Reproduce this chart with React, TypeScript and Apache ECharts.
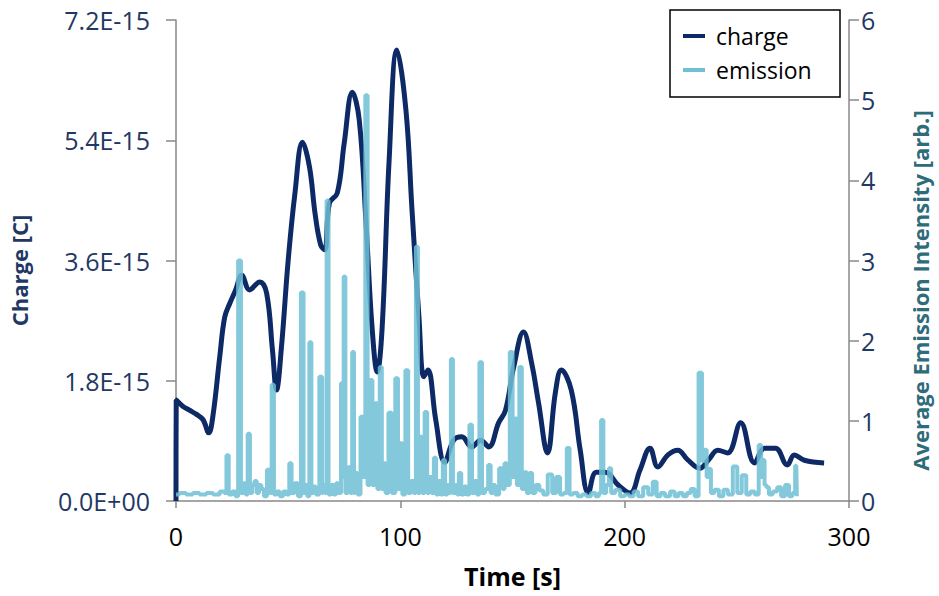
import React, { useEffect, useRef } from "react";
import * as echarts from "echarts";

// Charge [×1E-15 C] vs time [s]
const chargeTime = [0, 0.1, 3, 6, 9, 12, 14.6, 16.4, 19.5, 21.7, 24, 26.5, 29.3, 32.8, 37.3, 40.4, 43, 44.8, 47, 50, 53, 56.4, 59.5, 62, 64.5, 66.3, 68.4, 71.9, 75, 78.6, 81.7, 84.8, 87.4, 89.7, 91.9, 95, 98.5, 102.5, 105.2, 108.3, 110.5, 112.3, 115.8, 119.8, 123.8, 127.4, 131.8, 135.8, 139.4, 143.8, 146.9, 150.5, 154.9, 158.5, 161.6, 165.6, 169.1, 171.8, 176.2, 180.2, 183.8, 187.3, 191.3, 197.1, 202.4, 206.8, 211.3, 214.8, 219.3, 223.7, 228, 233.5, 237.5, 241.5, 245.9, 251.7, 257.9, 262.4, 267.2, 272.5, 275.6, 280.1, 288.9];
const chargeValue = [0, 1.51, 1.42, 1.36, 1.3, 1.22, 1.02, 1.26, 2.16, 2.75, 2.96, 3.15, 3.38, 3.16, 3.28, 3.11, 2.26, 1.66, 2.3, 3.6, 4.6, 5.37, 5.0, 4.3, 3.83, 3.76, 4.46, 4.61, 5.36, 6.12, 5.7, 4.1, 2.6, 1.93, 2.6, 5.1, 6.75, 5.85, 4.36, 2.75, 1.86, 1.96, 1.21, 0.58, 0.91, 0.96, 0.81, 0.91, 0.81, 1.17, 1.36, 2.0, 2.53, 2.07, 1.47, 0.72, 1.62, 1.96, 1.66, 0.76, 0.12, 0.43, 0.43, 0.24, 0.12, 0.46, 0.79, 0.51, 0.69, 0.76, 0.62, 0.49, 0.62, 0.76, 0.72, 1.17, 0.57, 0.79, 0.79, 0.54, 0.69, 0.61, 0.57];

// Average emission intensity [arb.] vs time [s]
const emissionTime = [0, 3, 6, 9, 12, 15, 18, 21, 22, 23, 24, 26, 27, 28.4, 29.5, 30.6, 31.5, 32.4, 33.5, 34.5, 35.5, 36.5, 37.5, 38.6, 39.8, 41.3, 42.2, 43.1, 44.2, 45.5, 47, 48.5, 50, 51, 52, 53.7, 55, 56.4, 57.3, 58.1, 59, 59.9, 60.8, 61.7, 63, 64.8, 65.5, 66.1, 66.8, 67.5, 68.5, 69.7, 70.8, 71.9, 73, 74.1, 74.5, 75, 76, 77.2, 78.1, 79, 79.7, 80.3, 81.5, 83, 84, 84.8, 86, 87, 88.1, 89.2, 90.3, 91.4, 92.1, 92.8, 94, 95.4, 97, 98.5, 99.4, 100.3, 101.5, 103, 104, 105.5, 106.5, 107.4, 108.3, 109.2, 110.3, 111.4, 112.5, 113.5, 114.5, 115.4, 116.5, 117.5, 118.5, 119.4, 120.5, 121.5, 122.2, 122.9, 124, 125, 125.7, 126.5, 127.8, 129, 130.2, 131.4, 132.5, 133.5, 134.7, 135.8, 137, 138.5, 139.8, 140.7, 141.6, 143, 145.1, 146, 146.9, 148, 149.6, 150.5, 151.4, 152.5, 153.6, 154.7, 155.8, 157, 158, 159.5, 161, 162.9, 164.5, 166.9, 168.5, 170.4, 172, 173.5, 174.9, 176, 178, 180, 182, 184, 186, 188, 189, 190, 191, 192.5, 193.5, 194.5, 197, 199, 201, 203, 205, 207, 209.5, 211.5, 213.5, 215, 217, 219, 221.5, 223, 225, 227, 228.5, 230.4, 232, 233.9, 235, 236.1, 237, 237.9, 239, 241, 243, 245, 247, 249.4, 251, 253.4, 255, 257, 259, 260.5, 261.2, 261.9, 262.8, 263.6, 265, 267, 269, 270.5, 272.5, 274, 275.5, 276.5, 277];
const emissionValue = [0.08, 0.1, 0.08, 0.1, 0.08, 0.1, 0.08, 0.12, 0.1, 0.57, 0.08, 0.12, 0.06, 3.0, 0.1, 0.22, 0.08, 0.84, 0.1, 0.2, 0.25, 0.1, 0.2, 0.15, 0.06, 0.39, 0.1, 1.45, 0.08, 0.12, 0.06, 0.12, 0.08, 0.47, 0.1, 0.22, 0.06, 2.6, 0.1, 0.2, 0.06, 1.98, 0.1, 0.18, 0.08, 1.55, 0.1, 0.2, 0.1, 3.75, 0.08, 0.2, 0.08, 0.22, 0.1, 1.47, 0.3, 2.8, 0.1, 0.42, 0.1, 1.86, 0.1, 0.35, 0.08, 1.05, 0.3, 5.06, 0.2, 1.51, 0.2, 1.22, 0.15, 1.67, 0.15, 0.47, 0.1, 1.1, 0.1, 1.53, 0.15, 0.72, 0.08, 1.63, 0.1, 0.25, 0.1, 3.17, 0.1, 0.8, 0.1, 1.11, 0.1, 0.3, 0.1, 0.54, 0.08, 0.25, 0.08, 0.51, 0.08, 0.2, 0.1, 1.77, 0.1, 0.2, 0.08, 0.35, 0.08, 0.18, 0.08, 0.95, 0.1, 0.25, 0.08, 1.73, 0.1, 0.15, 0.45, 0.1, 0.2, 0.08, 0.41, 0.15, 0.47, 0.2, 1.86, 0.3, 1.03, 0.2, 1.67, 0.15, 0.36, 0.1, 0.35, 0.1, 0.2, 0.13, 0.08, 0.33, 0.1, 0.3, 0.08, 0.1, 0.66, 0.08, 0.1, 0.06, 0.08, 0.06, 0.1, 0.06, 0.1, 1.01, 0.1, 0.2, 0.41, 0.1, 0.14, 0.06, 0.08, 0.06, 0.12, 0.06, 0.17, 0.08, 0.24, 0.06, 0.1, 0.06, 0.12, 0.06, 0.1, 0.06, 0.1, 0.15, 0.06, 1.6, 0.5, 0.64, 0.3, 0.4, 0.1, 0.14, 0.06, 0.14, 0.08, 0.43, 0.1, 0.32, 0.08, 0.12, 0.08, 0.7, 0.3, 0.51, 0.2, 0.17, 0.08, 0.12, 0.17, 0.06, 0.2, 0.06, 0.1, 0.44, 0.06];

const FONT = "'Open Sans', sans-serif";
const NAVY = "#1F3864";
const TEAL_DARK = "#2E6B7B";

export default function App() {
  const ref = useRef<HTMLDivElement>(null);
  useEffect(() => {
    document.body.style.margin = "0";
    const chart = echarts.init(ref.current!, null, { renderer: "svg" });
    chart.setOption({
      animation: false,
      backgroundColor: "#fff",
      grid: { left: 176, right: 87, top: 20, bottom: 95 },
      legend: {
        orient: "vertical",
        left: 678,
        top: 18,
        icon: "rect",
        itemWidth: 22,
        itemHeight: 4,
        itemGap: 8,
        textStyle: { fontFamily: FONT, fontSize: 23, color: "#000", lineHeight: 26, padding: [0, 0, 0, 6] },
        data: ["charge", "emission"],
      },
      graphic: [
        {
          type: "rect",
          shape: { x: 670, y: 10, width: 170, height: 87 },
          style: { fill: "none", stroke: "#000", lineWidth: 1.5 },
          z: 100,
        },
      ],
      xAxis: {
        type: "value",
        min: 0,
        max: 300,
        interval: 100,
        name: "Time [s]",
        nameLocation: "middle",
        nameGap: 62,
        nameTextStyle: { fontFamily: FONT, fontSize: 25, fontWeight: "bold", color: "#000" },
        axisLine: { lineStyle: { color: "#888", width: 1.5 } },
        axisTick: { show: true, length: 7, lineStyle: { color: "#888", width: 1.5 } },
        axisLabel: { fontFamily: FONT, fontSize: 25, color: "#000", margin: 22 },
        splitLine: { show: false },
      },
      yAxis: [
        {
          type: "value",
          min: 0,
          max: 7.2,
          interval: 1.8,
          name: "Charge [C]",
          nameLocation: "middle",
          nameGap: 146,
          nameRotate: 90,
          nameTextStyle: { fontFamily: FONT, fontSize: 22, fontWeight: "bold", color: NAVY, padding: [0, 20, 0, 0] },
          axisLine: { show: true, lineStyle: { color: "#888", width: 1.5 } },
          axisTick: { show: true, length: 10, lineStyle: { color: "#888", width: 1.5 } },
          axisLabel: {
            fontFamily: FONT,
            fontSize: 25,
            color: NAVY,
            margin: 26,
            formatter: (v: number) => (v === 0 ? "0.0E+00" : v.toFixed(1) + "E-15"),
          },
          splitLine: { show: false },
        },
        {
          type: "value",
          min: 0,
          max: 6,
          interval: 1,
          position: "right",
          name: "Average Emission Intensity [arb.]",
          nameLocation: "middle",
          nameGap: 60,
          nameRotate: 90,
          nameTextStyle: { fontFamily: FONT, fontSize: 22, fontWeight: "bold", color: TEAL_DARK, padding: [0, 60, 0, 0] },
          axisLine: { show: true, lineStyle: { color: "#888", width: 1.5 } },
          axisTick: { show: true, length: 10, lineStyle: { color: "#888", width: 1.5 } },
          axisLabel: { fontFamily: FONT, fontSize: 25, color: NAVY, margin: 12 },
          splitLine: { show: false },
        },
      ],
      series: [
        {
          name: "charge",
          type: "line",
          yAxisIndex: 0,
          smooth: 0.4,
          showSymbol: false,
          symbol: "none",
          lineStyle: { color: "#0E2A66", width: 5 },
          itemStyle: { color: "#0E2A66" },
          data: chargeTime.map((t, i) => [t, chargeValue[i]]),
          z: 2,
        },
        {
          name: "emission",
          type: "line",
          yAxisIndex: 1,
          step: "middle",
          showSymbol: false,
          symbol: "none",
          lineStyle: { color: "#6FC0D5", width: 4, opacity: 0.85 },
          itemStyle: { color: "#6FC0D5" },
          data: emissionTime.map((t, i) => [t, emissionValue[i]]),
          z: 3,
        },
      ],
    });
    return () => chart.dispose();
  }, []);
  return <div ref={ref} style={{ width: 939, height: 596 }} />;
}
